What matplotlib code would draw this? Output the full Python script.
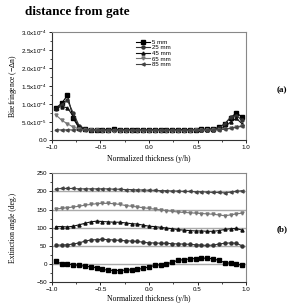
import matplotlib
matplotlib.use("Agg")
import matplotlib.pyplot as plt
from matplotlib.ticker import MultipleLocator

# normalized thickness positions (y/h)
x = [-0.96, -0.90, -0.84, -0.78, -0.72, -0.66, -0.60, -0.54, -0.48, -0.42, -0.36,
     -0.30, -0.24, -0.18, -0.12, -0.06, 0.00, 0.06, 0.12, 0.18, 0.24, 0.30,
     0.36, 0.42, 0.48, 0.54, 0.60, 0.66, 0.72, 0.78, 0.84, 0.90, 0.96]

labels = ["5 mm", "25 mm", "45 mm", "65 mm", "85 mm"]

# (a) birefringence, units of 1e-4
bire_5 = [0.88, 1.02, 1.24, 0.60, 0.33, 0.30, 0.29, 0.28, 0.28, 0.29, 0.30,
          0.29, 0.28, 0.28, 0.28, 0.27, 0.28, 0.28, 0.28, 0.28, 0.29, 0.29,
          0.29, 0.29, 0.29, 0.30, 0.30, 0.31, 0.35, 0.45, 0.62, 0.75, 0.64]
bire_25 = [0.87, 0.98, 1.10, 0.75, 0.40, 0.31, 0.29, 0.28, 0.28, 0.28, 0.29,
           0.28, 0.28, 0.27, 0.27, 0.27, 0.27, 0.27, 0.27, 0.28, 0.28, 0.28,
           0.28, 0.28, 0.29, 0.29, 0.29, 0.30, 0.33, 0.44, 0.63, 0.68, 0.55]
bire_45 = [0.90, 0.92, 0.90, 0.65, 0.36, 0.30, 0.28, 0.28, 0.27, 0.27, 0.27,
           0.27, 0.27, 0.27, 0.27, 0.27, 0.27, 0.27, 0.27, 0.27, 0.27, 0.27,
           0.28, 0.28, 0.28, 0.28, 0.28, 0.29, 0.30, 0.36, 0.50, 0.60, 0.45]
bire_65 = [0.70, 0.55, 0.45, 0.36, 0.31, 0.28, 0.27, 0.27, 0.26, 0.26, 0.26,
           0.26, 0.26, 0.26, 0.26, 0.26, 0.26, 0.26, 0.26, 0.26, 0.26, 0.26,
           0.26, 0.26, 0.27, 0.27, 0.27, 0.28, 0.28, 0.30, 0.33, 0.36, 0.40]
bire_85 = [0.28, 0.28, 0.28, 0.28, 0.28, 0.28, 0.27, 0.27, 0.27, 0.27, 0.27,
           0.27, 0.27, 0.27, 0.27, 0.27, 0.27, 0.27, 0.27, 0.27, 0.27, 0.27,
           0.27, 0.27, 0.28, 0.28, 0.28, 0.28, 0.29, 0.30, 0.32, 0.35, 0.38]

# (b) extinction angle (deg.), curves offset by 50 deg
ext_5 = [8, 0, 0, -2, -4, -6, -8, -10, -15, -17, -18, -18, -17, -16, -15, -12,
         -8, -4, -2, 0, 5, 10, 12, 14, 15, 16, 16, 14, 10, 4, 2, -1, -3]
ext_25 = [52, 52, 53, 55, 58, 63, 66, 67, 68, 67, 66, 65, 64, 63, 62, 60, 58,
          58, 57, 57, 56, 55, 55, 54, 53, 52, 51, 52, 55, 57, 58, 57, 50]
ext_45 = [103, 103, 102, 104, 108, 112, 116, 118, 117, 116, 115, 115, 113, 111,
          110, 107, 104, 103, 101, 99, 97, 95, 93, 92, 91, 91, 90, 90, 92, 95,
          97, 98, 93]
ext_65 = [152, 153, 155, 157, 159, 162, 164, 166, 167, 167, 166, 164, 161, 159,
          157, 155, 153, 151, 149, 147, 145, 143, 142, 141, 140, 139, 138, 137,
          135, 133, 135, 138, 140]
ext_85 = [207, 208, 208, 208, 207, 207, 207, 207, 207, 207, 206, 206, 205, 205,
          204, 204, 203, 203, 202, 202, 201, 201, 200, 200, 199, 199, 198, 197,
          197, 196, 198, 200, 202]

bire_ticks = [0.0, 0.5, 1.0, 1.5, 2.0, 2.5, 3.0]
bire_ticklabels = ["0.0", "5.0x10$^{-5}$", "1.0x10$^{-4}$", "1.5x10$^{-4}$",
                   "2.0x10$^{-4}$", "2.5x10$^{-4}$", "3.0x10$^{-4}$"]
ext_ref = [0, 50, 100, 150, 200]

markers = ["s", "o", "^", "v", "<"]
colors = ["#000000", "#333333", "#111111", "#777777", "#444444"]

plt.rcParams["font.family"] = "Liberation Sans"
plt.rcParams["mathtext.fontset"] = "custom"
plt.rcParams["mathtext.rm"] = "Liberation Sans"
plt.rcParams["mathtext.default"] = "rm"

fig = plt.figure(figsize=(2.95, 3.05), dpi=100)
ax1 = fig.add_axes([0.176, 0.541, 0.658, 0.354])
ax2 = fig.add_axes([0.176, 0.075, 0.658, 0.357])

serif = "Liberation Serif"

for ys, m, c, lab in zip([bire_5, bire_25, bire_45, bire_65, bire_85],
                         markers, colors, labels):
    ax1.plot(x, ys, marker=m, color=c, ms=2.2, lw=0.8, label=lab)

for ys, m, c in zip([ext_5, ext_25, ext_45, ext_65, ext_85], markers, colors):
    ax2.plot(x, ys, marker=m, color=c, ms=2.2, lw=0.8, zorder=3)
for v in ext_ref:
    ax2.axhline(v, color="#aaaaaa", lw=1.0, zorder=1)

ax1.set_ylim(0, 3.0)
ax1.set_yticks(bire_ticks)
ax1.set_yticklabels(bire_ticklabels)
ax1.yaxis.set_minor_locator(MultipleLocator(0.25))
ax1.set_ylabel("Birefringence ($\\mathit{-}\\Delta$n)", family=serif, fontsize=5.5,
               labelpad=2)
ax1.set_xlabel("Normalized thickness (y/h)", family=serif, fontsize=5.5, labelpad=4)
ax1.legend(loc="upper left", bbox_to_anchor=(0.41, 0.97), frameon=False,
           fontsize=4.4, handlelength=2.4, labelspacing=0.05, borderpad=0.2,
           handletextpad=0.3)

ax2.set_ylim(-50, 250)
ax2.set_yticks([-50, 0, 50, 100, 150, 200, 250])
ax2.yaxis.set_minor_locator(MultipleLocator(25))
ax2.set_ylabel("Extinction angle (deg.)", family=serif, fontsize=5.5, labelpad=14)
ax2.set_xlabel("Normalized thickness (y/h)", family=serif, fontsize=5.5, labelpad=2)

for ax in (ax1, ax2):
    ax.set_xlim(-1.0, 1.0)
    ax.set_xticks([-1.0, -0.5, 0.0, 0.5, 1.0])
    ax.xaxis.set_minor_locator(MultipleLocator(0.25))
    ax.tick_params(labelsize=4.5, length=2, width=0.6, pad=1.5, direction="out")
    ax.tick_params(which="minor", length=1.2, width=0.5)
    for sp in ax.spines.values():
        sp.set_linewidth(0.8)
        sp.set_color("#333333")
    ax.spines["right"].set_color("#888888")
    ax.spines["top"].set_color("#888888")

fig.text(0.085, 0.96, "distance from gate", family=serif, fontweight="bold",
         fontsize=9.5, va="center", ha="left")
fig.text(0.955, 0.705, "(a)", family=serif, fontweight="bold", fontsize=6.5,
         ha="center", va="center")
fig.text(0.955, 0.25, "(b)", family=serif, fontweight="bold", fontsize=6.5,
         ha="center", va="center")

fig.savefig("out.png", dpi=100)
